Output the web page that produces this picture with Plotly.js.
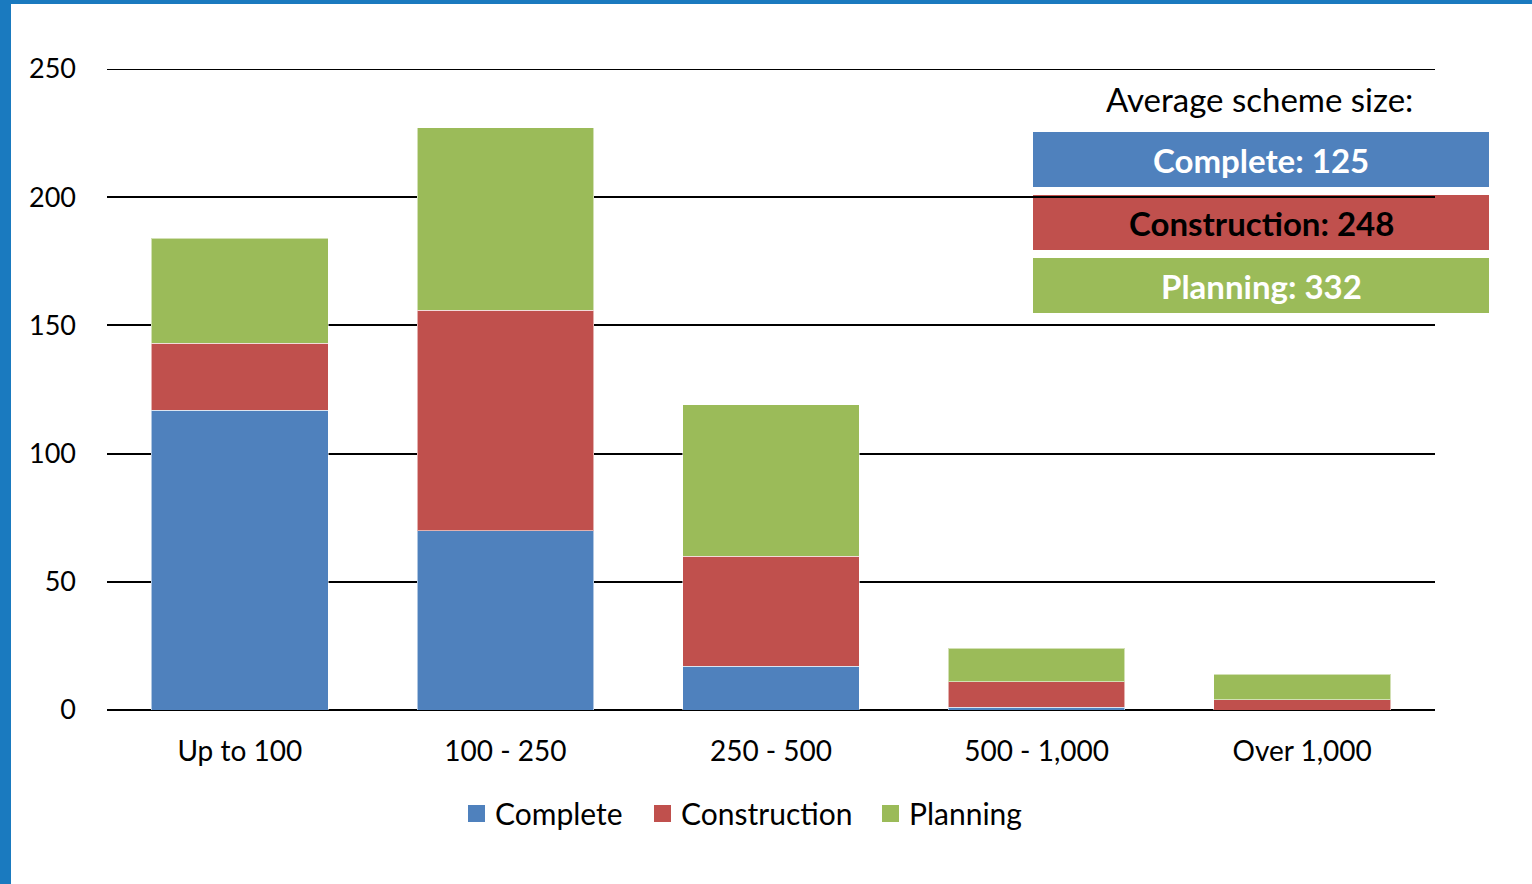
<!DOCTYPE html>
<html>
<head>
<meta charset="utf-8">
<script src="https://cdn.plot.ly/plotly-3.0.1.min.js"></script>
<style>html,body{margin:0;padding:0;background:#fff;}#chart{width:1532px;height:884px;}</style>
</head>
<body>
<div id="chart"></div>
<script>
const categories = ["Up to 100", "100 - 250", "250 - 500", "500 - 1,000", "Over 1,000"];
const complete = [117, 70, 17, 1, 0];
const construction = [26, 86, 43, 10, 4];
const planning = [41, 71, 59, 13, 10];
const seriesNames = ["Complete", "Construction", "Planning"];
const seriesColors = ["#4f81bd", "#c0504d", "#9bbb59"];
const averageLabels = ["Complete: 125", "Construction: 248", "Planning: 332"];
const averageTextColors = ["#ffffff", "#000000", "#ffffff"];
const yTicks = [0, 50, 100, 150, 200, 250];

const FONT = "Lato, 'Open Sans', sans-serif";
const seriesValues = [complete, construction, planning];
const traces = seriesValues.map((vals, i) => ({
  type: "bar",
  name: seriesNames[i],
  x: categories,
  y: vals,
  marker: { color: seriesColors[i], line: { color: "rgba(255,255,255,0.55)", width: 1 } },
  hoverinfo: "x+y+name",
  showlegend: false
}));

// plot area in px: x 107..1435, y 69..710
const L = 107, R = 1435, T = 69, B = 710;
const px2x = p => (p - L) / (R - L);
const py2y = p => (B - p) / (B - T);

const shapes = [];
const annotations = [];
// top gridline (at the range edge)
shapes.push({ type: "line", xref: "paper", yref: "y", x0: 0, x1: 1, y0: yTicks[yTicks.length - 1], y1: yTicks[yTicks.length - 1], line: { color: "#000", width: 2 }, layer: "between" });
// frame
shapes.push({ type: "rect", xref: "paper", yref: "paper", x0: px2x(0), x1: px2x(11), y0: py2y(884), y1: py2y(0), fillcolor: "#1a7abf", line: { width: 0 }, layer: "above" });
shapes.push({ type: "rect", xref: "paper", yref: "paper", x0: px2x(0), x1: px2x(1532), y0: py2y(4), y1: py2y(0), fillcolor: "#1a7abf", line: { width: 0 }, layer: "above" });

annotations.push({ xref: "paper", yref: "paper", x: px2x(1259), y: py2y(99), text: "Average scheme size:", showarrow: false, xanchor: "center", yanchor: "middle", font: { family: FONT, size: 33, color: "#000" } });
const boxTops = [132, 195, 258];
averageLabels.forEach((t, i) => {
  const y0 = boxTops[i], y1 = y0 + 55;
  shapes.push({ type: "rect", xref: "paper", yref: "paper", x0: px2x(1033), x1: px2x(1489), y0: py2y(y1), y1: py2y(y0), fillcolor: seriesColors[i], line: { width: 0 }, layer: "below" });
  annotations.push({ xref: "paper", yref: "paper", x: px2x(1261), y: py2y((y0 + y1) / 2), text: "<b>" + t + "</b>", showarrow: false, xanchor: "center", yanchor: "middle", font: { family: FONT, size: 33, color: averageTextColors[i] } });
});

// legend (drawn manually for large square swatches)
const legendSwatchX = [468, 654, 882];
const legendY = 813;
seriesNames.forEach((n, i) => {
  const sx = legendSwatchX[i];
  shapes.push({ type: "rect", xref: "paper", yref: "paper", x0: px2x(sx), x1: px2x(sx + 17), y0: py2y(legendY + 9), y1: py2y(legendY - 8), fillcolor: seriesColors[i], line: { width: 0 } });
  annotations.push({ xref: "paper", yref: "paper", x: px2x(sx + 25), y: py2y(legendY), text: n, showarrow: false, xanchor: "left", yanchor: "middle", font: { family: FONT, size: 30, color: "#000" } });
});

const layout = {
  width: 1532, height: 884,
  margin: { l: L, r: 1532 - R, t: T, b: 884 - B, pad: 0 },
  paper_bgcolor: "#fff", plot_bgcolor: "rgba(0,0,0,0)",
  barmode: "stack",
  bargap: 0.335,
  font: { family: FONT, color: "#000" },
  showlegend: false,
  xaxis: { type: "category", showgrid: false, zeroline: false, showline: false, ticks: "", tickfont: { family: FONT, size: 28, color: "#000" }, ticklabelstandoff: 22, fixedrange: true },
  yaxis: { range: [0, 250], tickvals: yTicks, ticktext: yTicks.map(String), showgrid: true, gridcolor: "#000", gridwidth: 2, zeroline: true, zerolinecolor: "#000", zerolinewidth: 2, showline: false, ticks: "", tickfont: { family: FONT, size: 27, color: "#000" }, ticklabelstandoff: 30, fixedrange: true },
  shapes: shapes,
  annotations: annotations
};

Plotly.newPlot("chart", traces, layout, { displayModeBar: false, staticPlot: true });
</script>
</body>
</html>
